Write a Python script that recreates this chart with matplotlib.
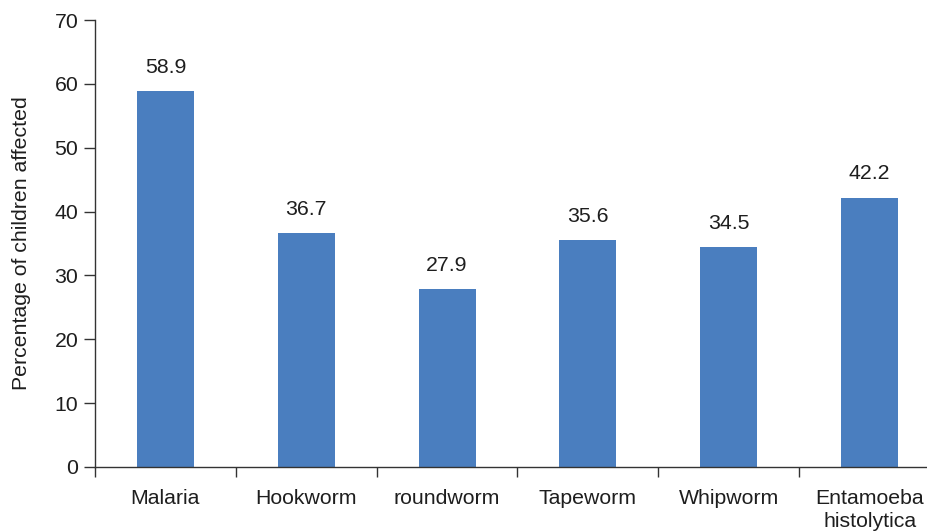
import matplotlib
matplotlib.use("Agg")
import matplotlib.pyplot as plt

categories = ["Malaria", "Hookworm", "roundworm", "Tapeworm", "Whipworm", "Entamoeba\nhistolytica"]
values = [58.9, 36.7, 27.9, 35.6, 34.5, 42.2]
yticks = [0, 10, 20, 30, 40, 50, 60, 70]

plt.rcParams['font.family'] = ['Liberation Sans', 'DejaVu Sans']
txt = '#1e1e1e'
bar_color = '#4a7ebf'

fig = plt.figure(figsize=(9.28, 5.32), dpi=100)
# axes: left 95px, bottom 467px (from top), top 20px, right ~940px
ax = fig.add_axes([95/928, (532-467)/532, (940-95)/928, (467-20)/532])

x = list(range(len(categories)))
ax.bar(x, values, width=0.405, color=bar_color, zorder=2)
for xi, v in zip(x, values):
    ax.annotate(f"{v}", (xi, v), xytext=(0, 13), textcoords='offset points',
                ha='center', va='baseline', fontsize=15.3, color=txt)

ax.set_xlim(-0.5, len(categories) - 0.5)
ax.set_ylim(0, 70)
ax.set_yticks(yticks)
ax.set_yticklabels([str(t) for t in yticks], fontsize=15.3, color=txt)

ax.set_xticks([i - 0.5 for i in range(len(categories) + 1)])
ax.set_xticklabels([])
ax.set_xticks(x, minor=True)
ax.set_xticklabels(categories, minor=True, fontsize=15.3, color=txt, linespacing=1.25, va='top')
ax.tick_params(axis='x', which='minor', length=0, pad=16)
ax.tick_params(axis='x', which='major', direction='out', length=7, width=1, color='#333333')
ax.tick_params(axis='y', direction='out', length=8, width=1, color='#333333', pad=4)

ax.spines['top'].set_visible(False)
ax.spines['right'].set_visible(False)
for s in ['left', 'bottom']:
    ax.spines[s].set_color('#333333')
    ax.spines[s].set_linewidth(1)

ax.set_ylabel("Percentage of children affected", fontsize=15.3, color=txt, labelpad=17)

fig.savefig("out.png", dpi=100)
